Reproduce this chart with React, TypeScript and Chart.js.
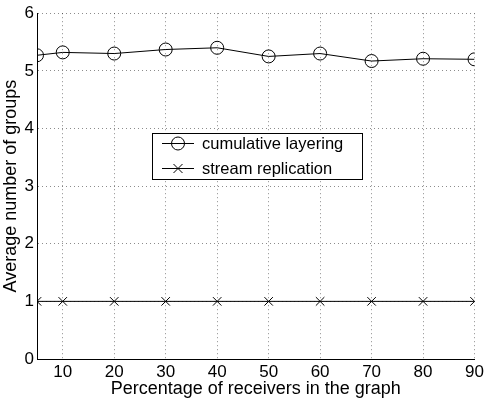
import React, { useEffect, useRef } from "react";
import { Chart, registerables } from "chart.js";

Chart.register(...registerables);

const xValues = [5, 10, 20, 30, 40, 50, 60, 70, 80, 90];
const xTicks = [10, 20, 30, 40, 50, 60, 70, 80, 90];
const cumulativeLayering = [5.27, 5.32, 5.3, 5.37, 5.4, 5.25, 5.3, 5.17, 5.21, 5.2];
const streamReplication = [1, 1, 1, 1, 1, 1, 1, 1, 1, 1];
const seriesNames = ["cumulative layering", "stream replication"];
const xTitle = "Percentage of receivers in the graph";
const yTitle = "Average number of groups";

const FONT = "Arial, 'Liberation Sans', Helvetica, sans-serif";

const legendPlugin = {
  id: "boxLegend",
  afterDraw(chart: any) {
    const ctx = chart.ctx as CanvasRenderingContext2D;
    const x0 = 152.5, y0 = 133.5, w = 210, h = 46;
    ctx.save();
    ctx.fillStyle = "#ffffff";
    ctx.fillRect(x0, y0, w, h);
    ctx.strokeStyle = "#000";
    ctx.lineWidth = 1;
    ctx.strokeRect(x0, y0, w, h);
    const rows = [143, 168];
    const styles = ["circle", "cross"];
    rows.forEach((ry, i) => {
      ctx.beginPath();
      ctx.moveTo(162, ry + 0.5);
      ctx.lineTo(194, ry + 0.5);
      ctx.stroke();
      if (styles[i] === "circle") {
        ctx.beginPath();
        ctx.arc(178, ry + 0.5, 6.5, 0, Math.PI * 2);
        ctx.stroke();
      } else {
        const r = 4.5;
        ctx.beginPath();
        ctx.moveTo(178 - r, ry + 0.5 - r);
        ctx.lineTo(178 + r, ry + 0.5 + r);
        ctx.moveTo(178 + r, ry + 0.5 - r);
        ctx.lineTo(178 - r, ry + 0.5 + r);
        ctx.stroke();
      }
      ctx.fillStyle = "#000";
      ctx.font = `16.5px ${FONT}`;
      ctx.textBaseline = "middle";
      ctx.textAlign = "left";
      ctx.fillText(seriesNames[i], 202, ry + 1);
    });
    ctx.restore();
  },
};

export default function App() {
  const ref = useRef<HTMLCanvasElement | null>(null);
  useEffect(() => {
    if (!ref.current) return;
    const gridColor = "rgba(0,0,0,0.45)";
    const chart = new Chart(ref.current, {
      type: "line",
      data: {
        datasets: [
          {
            label: seriesNames[0],
            data: xValues.map((x, i) => ({ x, y: cumulativeLayering[i] })),
            borderColor: "#000",
            borderWidth: 1,
            pointStyle: "circle",
            pointRadius: 6.5,
            pointBorderColor: "#000",
            pointBackgroundColor: "rgba(0,0,0,0)",
            pointBorderWidth: 1,
            tension: 0,
          },
          {
            label: seriesNames[1],
            data: xValues.map((x, i) => ({ x, y: streamReplication[i] })),
            borderColor: "#000",
            borderWidth: 1,
            pointStyle: "crossRot",
            pointRadius: 6,
            pointBorderColor: "#000",
            pointBorderWidth: 1,
            tension: 0,
          },
        ],
      },
      options: {
        animation: false,
        responsive: false,
        maintainAspectRatio: false,
        layout: { padding: { top: 12, right: 9, left: 0, bottom: 0 } },
        plugins: { legend: { display: false }, tooltip: { enabled: false } },
        scales: {
          x: {
            type: "linear",
            min: 5,
            max: 90,
            afterBuildTicks: (s: any) => {
              s.ticks = xTicks.map((v) => ({ value: v }));
            },
            afterFit: (s: any) => {
              s.height = 41;
            },
            grid: { color: gridColor, lineWidth: 1, drawTicks: false },
            border: { display: true, color: "#000", width: 1, dash: [1, 3] },
            ticks: {
              color: "#000",
              font: { family: FONT, size: 17 },
              padding: 3,
              maxRotation: 0,
              autoSkip: false,
            },
            title: {
              display: true,
              text: xTitle,
              color: "#000",
              font: { family: FONT, size: 18 },
              padding: { top: 0, bottom: 0 },
            },
          },
          y: {
            type: "linear",
            min: 0,
            max: 6,
            afterFit: (s: any) => {
              s.width = 37;
            },
            grid: { color: gridColor, lineWidth: 1, drawTicks: false },
            border: { display: true, color: "#000", width: 1, dash: [1, 3] },
            ticks: {
              stepSize: 1,
              color: "#000",
              font: { family: FONT, size: 17 },
              padding: 3,
            },
            title: {
              display: true,
              text: yTitle,
              color: "#000",
              font: { family: FONT, size: 18 },
              padding: { top: 0, bottom: 0 },
            },
          },
        },
      },
      plugins: [legendPlugin],
    } as any);
    return () => chart.destroy();
  }, []);
  return (
    <div style={{ position: "fixed", left: 0, top: 0, width: 487, height: 400, background: "#fff" }}>
      <canvas ref={ref} width={487} height={400} style={{ width: 487, height: 400 }} />
    </div>
  );
}
